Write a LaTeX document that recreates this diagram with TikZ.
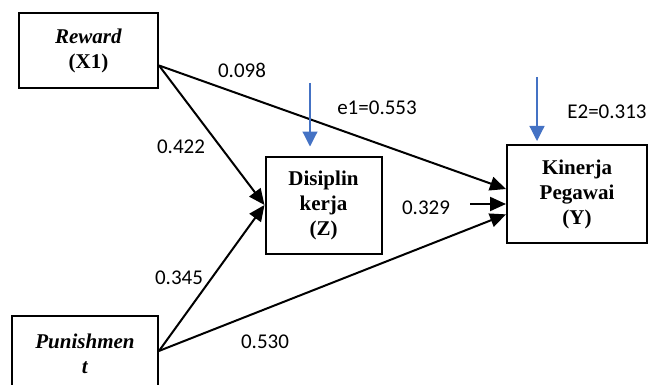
\documentclass[tikz,border=0pt]{standalone}
\usepackage{fontspec}
\setmainfont{Liberation Serif}
\newfontfamily\lblfont{Carlito}
\usetikzlibrary{arrows.meta}
\definecolor{errblue}{RGB}{68,114,196}

\begin{document}
\begin{tikzpicture}[x=0.5pt,y=-0.5pt,
  var/.style={draw, line width=1pt, align=center, inner sep=0pt,
    font=\fontsize{10.5}{12.5}\selectfont\bfseries},
  coef/.style={inner sep=0pt, font=\lblfont\fontsize{10.5}{12.5}\selectfont},
  path/.style={line width=1pt, -{Triangle[length=8pt,width=7pt]}},
  err/.style={errblue, line width=0.6pt, -{Triangle[length=7.5pt,width=7.5pt]}}]
\clip (0,0) rectangle (658,385);

% variables
\node[var, minimum width=69.5pt, minimum height=37.5pt] (rew) at (88.5,50.5) {\textit{Reward}\\(X1)};
\node[var, minimum width=58pt, minimum height=48.5pt] (dis) at (323.5,205) {Disiplin\\kerja\\(Z)};
\node[var, minimum width=70pt, minimum height=49pt] (kin) at (577,194) {Kinerja\\Pegawai\\(Y)};
\node[var, minimum width=73pt, minimum height=37.5pt] (pun) at (85,353.5) {\textit{Punishmen}\\\textit{t}};

% path coefficients
\node[coef] (c098) at (242,70) {0.098};
\node[coef] (c422) at (181,147) {0.422};
\node[coef] (c345) at (179,278) {0.345};
\node[coef] (c530) at (265,342) {0.530};
\node[coef] (c329) at (426,208) {0.329};
\node[coef] (e1) at (377,108) {e1=0.553};
\node[coef] (e2) at (607,112) {E2=0.313};

% paths
\draw[path] (rew.-12) -- (dis.west);
\draw[path] (rew.-12) -- (kin.176.7);
\draw[path] (pun.2.7) -- (dis.west);
\draw[path] (pun.2.7) -- (kin.196.7);
\draw[path] ([xshift=10pt,yshift=2pt]c329.east) -- ([yshift=2pt]c329.east -| kin.west);

% error terms
\coordinate (e1top) at (310,83);
\coordinate (e2top) at (537,77);
\draw[err] (e1top) -- ([yshift=4.5pt]e1top |- dis.north);
\draw[err] (e2top) -- ([yshift=1.5pt]e2top |- kin.north);
\end{tikzpicture}
\end{document}
